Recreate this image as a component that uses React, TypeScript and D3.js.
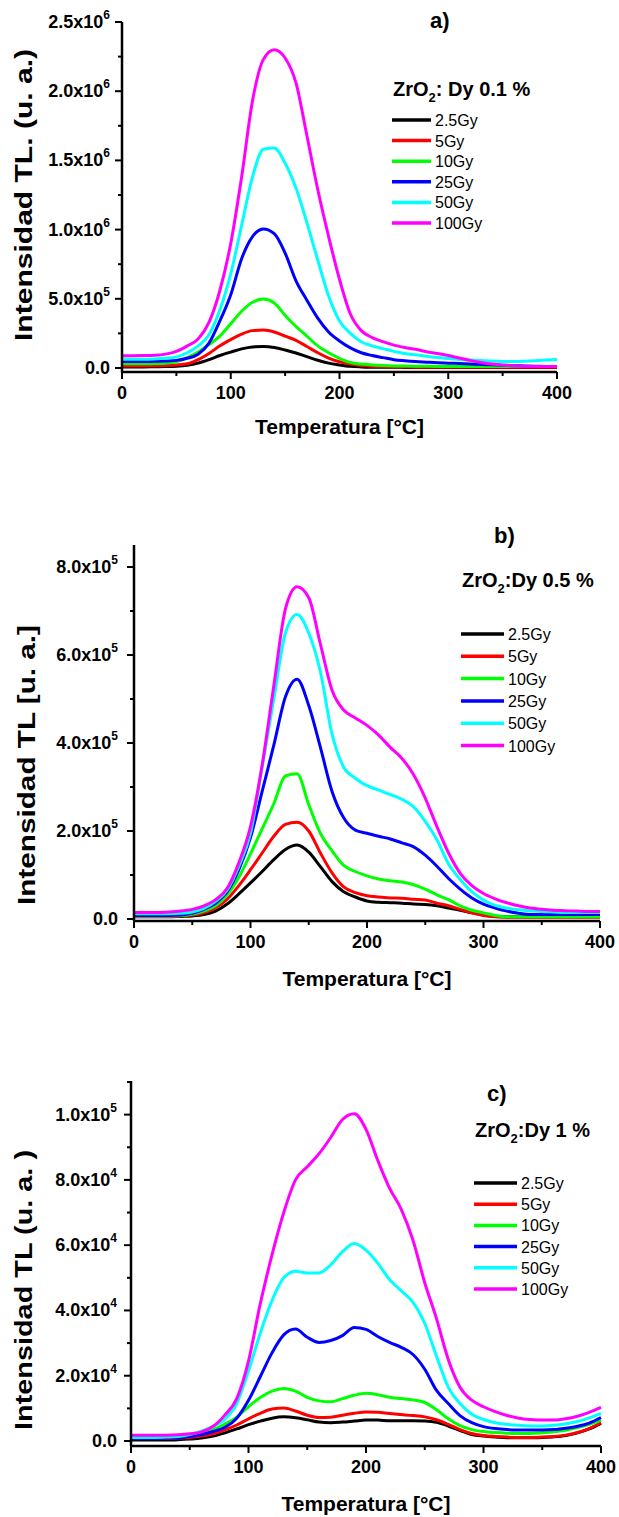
import React from 'react';
import * as d3 from 'd3';

// Heating temperature grid (°C)
const temperatures = [
  0, 10, 20, 30, 40, 50, 60, 70, 80, 90,
  100, 110, 120, 130, 140, 150, 160, 170, 180, 190,
  200, 210, 220, 230, 240, 250, 260, 270, 280, 290,
  300, 310, 320, 330, 340, 350, 360, 370, 380, 390,
  400,
];

const doseLabels = ['2.5Gy', '5Gy', '10Gy', '25Gy', '50Gy', '100Gy'];
const doseColors = ['#000000', '#ff0000', '#00ff00', '#0000ff', '#00ffff', '#ff00ff'];

const xTickValues = [0, 100, 200, 300, 400];
const xMinorTickValues = [50, 150, 250, 350];

// ZrO2:Dy 0.1 % — TL intensity in units of 1e5
const dy01Dose2_5 = [
  0.08, 0.08, 0.08, 0.09, 0.10, 0.13, 0.20, 0.35, 0.60, 0.90,
  1.15, 1.38, 1.52, 1.55, 1.48, 1.30, 1.08, 0.82, 0.56, 0.35,
  0.22, 0.12, 0.08, 0.06, 0.05, 0.05, 0.04, 0.04, 0.04, 0.03,
  0.03, 0.03, 0.03, 0.03, 0.03, 0.03, 0.03, 0.03, 0.03, 0.03,
  0.03,
];
const dy01Dose5 = [
  0.15, 0.15, 0.15, 0.16, 0.18, 0.22, 0.30, 0.60, 1.05, 1.60,
  2.05, 2.45, 2.70, 2.74, 2.60, 2.30, 2.00, 1.55, 1.10, 0.72,
  0.45, 0.28, 0.18, 0.13, 0.10, 0.08, 0.07, 0.06, 0.06, 0.05,
  0.05, 0.05, 0.05, 0.05, 0.05, 0.05, 0.05, 0.05, 0.05, 0.05,
  0.05,
];
const dy01Dose10 = [
  0.30, 0.30, 0.30, 0.32, 0.35, 0.45, 0.75, 1.15, 1.70, 2.30,
  3.20, 4.10, 4.75, 4.98, 4.70, 3.80, 3.00, 2.30, 1.60, 1.10,
  0.70, 0.40, 0.28, 0.22, 0.18, 0.15, 0.14, 0.13, 0.12, 0.11,
  0.10, 0.10, 0.10, 0.10, 0.10, 0.10, 0.10, 0.10, 0.10, 0.10,
  0.10,
];
const dy01Dose25 = [
  0.46, 0.46, 0.46, 0.48, 0.50, 0.55, 0.70, 1.00, 1.80, 3.40,
  5.30, 7.90, 9.50, 10.05, 9.70, 8.30, 6.30, 4.90, 3.60, 2.60,
  1.95, 1.45, 1.10, 0.90, 0.75, 0.60, 0.52, 0.46, 0.42, 0.38,
  0.35, 0.32, 0.29, 0.26, 0.23, 0.20, 0.17, 0.15, 0.13, 0.11,
  0.10,
];
const dy01Dose50 = [
  0.63, 0.63, 0.63, 0.65, 0.70, 0.80, 1.10, 1.60, 2.40, 4.20,
  6.80, 10.30, 13.80, 15.80, 15.90, 14.80, 13.00, 10.50, 7.80, 5.20,
  3.40, 2.50, 1.90, 1.60, 1.40, 1.20, 1.05, 0.95, 0.85, 0.75,
  0.68, 0.62, 0.58, 0.55, 0.50, 0.47, 0.46, 0.48, 0.52, 0.57,
  0.62,
];
const dy01Dose100 = [
  0.89, 0.89, 0.90, 0.92, 1.00, 1.20, 1.60, 2.10, 3.30, 5.60,
  9.00, 13.80, 19.30, 22.30, 23.00, 22.40, 20.60, 16.80, 12.90, 9.50,
  6.40, 3.90, 2.70, 2.20, 1.90, 1.65, 1.48, 1.35, 1.18, 1.05,
  0.90, 0.72, 0.55, 0.40, 0.28, 0.20, 0.16, 0.13, 0.11, 0.10,
  0.10,
];

// ZrO2:Dy 0.5 % — TL intensity in units of 1e5
const dy05Dose2_5 = [
  0.05, 0.05, 0.05, 0.05, 0.06, 0.07, 0.10, 0.18, 0.34, 0.57,
  0.82, 1.08, 1.35, 1.58, 1.68, 1.52, 1.19, 0.85, 0.62, 0.50,
  0.41, 0.38, 0.37, 0.36, 0.34, 0.33, 0.30, 0.25, 0.20, 0.14,
  0.09, 0.06, 0.05, 0.05, 0.05, 0.05, 0.05, 0.05, 0.05, 0.05,
  0.05,
];
const dy05Dose5 = [
  0.06, 0.06, 0.06, 0.06, 0.07, 0.09, 0.14, 0.25, 0.45, 0.76,
  1.12, 1.50, 1.88, 2.15, 2.20, 2.00, 1.50, 1.05, 0.73, 0.60,
  0.53, 0.50, 0.48, 0.47, 0.45, 0.43, 0.36, 0.30, 0.22, 0.14,
  0.08, 0.05, 0.04, 0.04, 0.04, 0.04, 0.04, 0.04, 0.04, 0.04,
  0.04,
];
const dy05Dose10 = [
  0.07, 0.07, 0.07, 0.07, 0.08, 0.11, 0.18, 0.30, 0.55, 0.95,
  1.48, 2.05, 2.62, 3.25, 3.30, 2.60, 1.95, 1.55, 1.22, 1.08,
  0.98, 0.91, 0.87, 0.84, 0.78, 0.68, 0.55, 0.44, 0.30, 0.20,
  0.14, 0.08, 0.05, 0.05, 0.05, 0.05, 0.05, 0.05, 0.05, 0.05,
  0.05,
];
const dy05Dose25 = [
  0.08, 0.08, 0.08, 0.08, 0.09, 0.13, 0.22, 0.36, 0.62, 1.12,
  1.85, 2.90, 3.95, 5.05, 5.45, 4.85, 3.90, 2.90, 2.30, 2.02,
  1.95, 1.88, 1.82, 1.73, 1.64, 1.45, 1.20, 0.92, 0.68, 0.48,
  0.34, 0.25, 0.18, 0.13, 0.10, 0.10, 0.10, 0.10, 0.10, 0.10,
  0.10,
];
const dy05Dose50 = [
  0.12, 0.12, 0.12, 0.12, 0.13, 0.16, 0.24, 0.40, 0.66, 1.20,
  1.95, 3.45, 5.00, 6.50, 6.92, 6.50, 5.62, 4.20, 3.45, 3.20,
  3.03, 2.93, 2.83, 2.72, 2.55, 2.22, 1.80, 1.25, 0.90, 0.62,
  0.43, 0.31, 0.25, 0.21, 0.19, 0.17, 0.16, 0.15, 0.15, 0.15,
  0.15,
];
const dy05Dose100 = [
  0.15, 0.15, 0.15, 0.16, 0.18, 0.22, 0.30, 0.44, 0.70, 1.28,
  2.10, 3.50, 5.30, 7.05, 7.55, 7.30, 6.25, 5.20, 4.75, 4.57,
  4.40, 4.18, 3.90, 3.65, 3.28, 2.75, 2.10, 1.50, 1.04, 0.76,
  0.58, 0.46, 0.37, 0.30, 0.25, 0.22, 0.20, 0.19, 0.18, 0.17,
  0.17,
];

// ZrO2:Dy 1 % — TL intensity in units of 1e3
const dy1Dose2_5 = [
  0.3, 0.3, 0.3, 0.3, 0.4, 0.6, 0.9, 1.5, 2.5, 3.7,
  5.0, 6.1, 7.0, 7.4, 7.1, 6.5, 5.8, 5.6, 5.8, 6.1,
  6.4, 6.4, 6.2, 6.2, 6.2, 6.1, 5.7, 4.6, 3.2, 2.0,
  1.5, 1.2, 1.0, 1.0, 1.0, 1.1, 1.3, 1.7, 2.5, 3.7,
  5.4,
];
const dy1Dose5 = [
  0.8, 0.8, 0.8, 0.8, 0.9, 1.1, 1.5, 2.2, 3.4, 4.9,
  6.8, 8.5, 9.8, 10.1, 9.2, 7.9, 7.2, 7.3, 7.9, 8.5,
  8.9, 8.8, 8.4, 8.1, 7.8, 7.4, 6.5, 5.1, 3.5, 2.3,
  1.7, 1.4, 1.2, 1.1, 1.1, 1.2, 1.4, 1.8, 2.6, 3.8,
  5.6,
];
const dy1Dose10 = [
  1.1, 1.1, 1.1, 1.2, 1.4, 1.8, 2.4, 3.5, 5.2, 7.3,
  10.5, 13.3, 15.3, 16.1, 15.3, 13.4, 12.3, 12.0, 13.0, 14.0,
  14.6, 14.2, 13.4, 13.0, 12.6, 11.8, 9.6, 6.8, 4.7, 3.5,
  2.9, 2.6, 2.4, 2.3, 2.3, 2.5, 2.8, 3.3, 4.1, 5.1,
  6.4,
];
const dy1Dose25 = [
  0.8, 0.8, 0.8, 0.9, 1.0, 1.4, 2.0, 2.9, 4.2, 7.0,
  12.5, 19.7, 27.0, 32.5, 34.3, 31.8, 30.2, 30.8, 32.3, 34.8,
  34.2, 32.0, 30.2, 28.7, 26.5, 22.0, 15.5, 11.5, 7.8, 5.6,
  4.4, 3.8, 3.5, 3.4, 3.4, 3.4, 3.5, 3.9, 4.5, 5.5,
  7.2,
];
const dy1Dose50 = [
  1.1, 1.1, 1.1, 1.2, 1.4, 2.0, 3.0, 4.5, 6.7, 11.5,
  21.5, 33.0, 43.0, 50.0, 52.0, 51.5, 51.5, 54.0, 58.0, 60.5,
  58.5, 54.5, 49.5, 46.0, 42.5, 36.0, 26.0, 16.5, 11.5, 8.2,
  6.6, 5.6, 5.1, 4.8, 4.6, 4.6, 4.8, 5.3, 6.0, 7.1,
  8.5,
];
const dy1Dose100 = [
  1.8, 1.8, 1.8, 1.8, 1.9, 2.2, 2.8, 4.5, 8.0, 13.0,
  24.5, 42.0, 57.0, 70.0, 80.0, 84.0, 88.0, 93.0, 98.5, 100.3,
  95.5, 86.0, 77.5, 71.0, 61.5, 48.5, 37.5, 25.0, 16.5, 12.5,
  10.5, 9.0, 7.8, 7.0, 6.6, 6.4, 6.4, 6.8, 7.6, 8.8,
  10.3,
];

const dy01YTicks = [0, 5e5, 1e6, 1.5e6, 2e6, 2.5e6];
const dy01YMinorTicks = [2.5e5, 7.5e5, 1.25e6, 1.75e6, 2.25e6];
const dy05YTicks = [0, 2e5, 4e5, 6e5, 8e5];
const dy05YMinorTicks = [1e5, 3e5, 5e5, 7e5];
const dy1YTicks = [0, 2e4, 4e4, 6e4, 8e4, 1e5];
const dy1YMinorTicks = [1e4, 3e4, 5e4, 7e4, 9e4, 1.1e5];

const FONT = 'Arial, "Liberation Sans", Helvetica, sans-serif';

type PanelSpec = {
  series: number[][];
  unit: number;
  yDomain: [number, number];
  yTicks: number[];
  yMinorTicks: number[];
  left: number;
  right: number;
  top: number;
  bottom: number;
  yLabelGap: number;
  xTitleY: number;
  yTitleX: number;
  yTitleY: number;
  yTitleLength: number;
  yTitle: string;
  panelLabel: string;
  panelLabelX: number;
  panelLabelY: number;
  legendHead: string;
  legendTail: string;
  legendX: number;
  legendTitleY: number;
  legendRowY: number;
  legendRowStep: number;
  legendLineEnd: number;
};

const panels: PanelSpec[] = [
  {
    series: [dy01Dose2_5, dy01Dose5, dy01Dose10, dy01Dose25, dy01Dose50, dy01Dose100],
    unit: 1e5,
    yDomain: [-0.029e6, 2.5e6],
    yTicks: dy01YTicks,
    yMinorTicks: dy01YMinorTicks,
    left: 122, right: 557, top: 22, bottom: 372,
    yLabelGap: 12,
    xTitleY: 434, yTitleX: 32, yTitleY: 195, yTitleLength: 292,
    yTitle: 'Intensidad TL. (u. a.)',
    panelLabel: 'a)', panelLabelX: 430, panelLabelY: 28,
    legendHead: 'ZrO', legendTail: ': Dy 0.1 %',
    legendX: 393, legendTitleY: 96, legendRowY: 120, legendRowStep: 20.6, legendLineEnd: 431,
  },
  {
    series: [dy05Dose2_5, dy05Dose5, dy05Dose10, dy05Dose25, dy05Dose50, dy05Dose100],
    unit: 1e5,
    yDomain: [-4.5e3, 8.5e5],
    yTicks: dy05YTicks,
    yMinorTicks: dy05YMinorTicks,
    left: 134, right: 600, top: 545, bottom: 921,
    yLabelGap: 16,
    xTitleY: 986, yTitleX: 35, yTitleY: 765, yTitleLength: 280,
    yTitle: 'Intensidad TL [u. a.]',
    panelLabel: 'b)', panelLabelX: 494, panelLabelY: 543,
    legendHead: 'ZrO', legendTail: ':Dy 0.5 %',
    legendX: 462, legendTitleY: 587, legendRowY: 634, legendRowStep: 22.3, legendLineEnd: 504,
  },
  {
    series: [dy1Dose2_5, dy1Dose5, dy1Dose10, dy1Dose25, dy1Dose50, dy1Dose100],
    unit: 1e3,
    yDomain: [-1.53e3, 110.3e3],
    yTicks: dy1YTicks,
    yMinorTicks: dy1YMinorTicks,
    left: 131, right: 601, top: 1081, bottom: 1446,
    yLabelGap: 14,
    xTitleY: 1511, yTitleX: 32, yTitleY: 1290, yTitleLength: 280,
    yTitle: 'Intensidad TL (u. a. )',
    panelLabel: 'c)', panelLabelX: 487, panelLabelY: 1101,
    legendHead: 'ZrO', legendTail: ':Dy 1 %',
    legendX: 475, legendTitleY: 1137, legendRowY: 1183, legendRowStep: 21.2, legendLineEnd: 517,
  },
];

function sciLabel(v: number) {
  if (v === 0) return { mant: '0.0', exp: '' };
  const exp = Math.floor(Math.log10(v) + 1e-9);
  const mant = (v / Math.pow(10, exp)).toFixed(1);
  return { mant: `${mant}x10`, exp: String(exp) };
}

function Panel({ p }: { p: PanelSpec }) {
  const x = d3.scaleLinear().domain([0, 400]).range([p.left, p.right]);
  const y = d3.scaleLinear().domain(p.yDomain).range([p.bottom, p.top]);
  const line = d3
    .line<number>()
    .x((_, i) => x(temperatures[i]))
    .y((d) => y(d * p.unit))
    .curve(d3.curveMonotoneX);

  const major = 7;
  const minor = 4;
  const midX = (p.left + p.right) / 2;

  return (
    <g fontFamily={FONT}>
      {/* glow curves */}
      {p.series.map((s, i) => (
        <path
          key={doseLabels[i]}
          d={line(s) || ''}
          fill="none"
          stroke={doseColors[i]}
          strokeWidth={3}
          strokeLinejoin="round"
        />
      ))}

      {/* axes */}
      <line x1={p.left} x2={p.right} y1={p.bottom} y2={p.bottom} stroke="#000" strokeWidth={2.5} />
      <line x1={p.left} x2={p.left} y1={p.top} y2={p.bottom} stroke="#000" strokeWidth={2.5} />

      {xTickValues.map((t) => (
        <g key={`xt${t}`}>
          <line x1={x(t)} x2={x(t)} y1={p.bottom} y2={p.bottom + major} stroke="#000" strokeWidth={2} />
          <text x={x(t)} y={p.bottom + 27} textAnchor="middle" fontSize={18} fontWeight="bold">
            {t}
          </text>
        </g>
      ))}
      {xMinorTickValues.map((t) => (
        <line key={`xm${t}`} x1={x(t)} x2={x(t)} y1={p.bottom} y2={p.bottom + minor} stroke="#000" strokeWidth={2} />
      ))}

      {p.yTicks.map((t) => {
        const lab = sciLabel(t);
        return (
          <g key={`yt${t}`}>
            <line x1={p.left - major} x2={p.left} y1={y(t)} y2={y(t)} stroke="#000" strokeWidth={2} />
            <text
              x={p.left - p.yLabelGap}
              y={y(t) + 6}
              textAnchor="end"
              fontSize={18}
              fontWeight="bold"
            >
              {lab.mant}
              {lab.exp && (
                <tspan dy={-9} fontSize={12}>
                  {lab.exp}
                </tspan>
              )}
            </text>
          </g>
        );
      })}
      {p.yMinorTicks.map((t) => (
        <line key={`ym${t}`} x1={p.left - minor} x2={p.left} y1={y(t)} y2={y(t)} stroke="#000" strokeWidth={2} />
      ))}

      {/* axis titles */}
      <text x={midX} y={p.xTitleY} textAnchor="middle" fontSize={21} fontWeight="bold">
        Temperatura [°C]
      </text>
      <text
        transform={`translate(${p.yTitleX},${p.yTitleY}) rotate(-90)`}
        textAnchor="middle"
        fontSize={23}
        fontWeight="bold"
        textLength={p.yTitleLength}
        lengthAdjust="spacingAndGlyphs"
      >
        {p.yTitle}
      </text>

      {/* panel tag */}
      <text x={p.panelLabelX} y={p.panelLabelY} fontSize={22} fontWeight="bold">
        {p.panelLabel}
      </text>

      {/* legend */}
      <text x={p.legendX} y={p.legendTitleY} fontSize={20} fontWeight="bold">
        {p.legendHead}
        <tspan dy={6} fontSize={13}>2</tspan>
        <tspan dy={-6}>{p.legendTail}</tspan>
      </text>
      {doseLabels.map((lab, i) => {
        const ry = p.legendRowY + i * p.legendRowStep;
        return (
          <g key={`lg${lab}`}>
            <line x1={p.legendX - 1} x2={p.legendLineEnd} y1={ry} y2={ry} stroke={doseColors[i]} strokeWidth={3.5} />
            <text x={p.legendLineEnd + 4} y={ry + 6} fontSize={16}>
              {lab}
            </text>
          </g>
        );
      })}
    </g>
  );
}

export default function App() {
  return (
    <svg
      width={619}
      height={1517}
      viewBox="0 0 619 1517"
      style={{ position: 'absolute', left: 0, top: 0, background: '#fff' }}
    >
      <rect x={0} y={0} width={619} height={1517} fill="#fff" />
      {panels.map((p) => (
        <Panel key={p.panelLabel} p={p} />
      ))}
    </svg>
  );
}
